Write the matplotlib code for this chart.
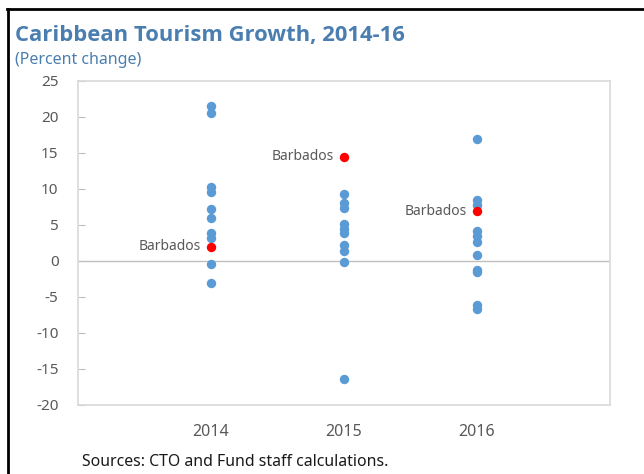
import matplotlib
matplotlib.use("Agg")
import matplotlib.pyplot as plt
from matplotlib.lines import Line2D

plt.rcParams['font.family'] = ['Noto Sans', 'DejaVu Sans']

# Tourism growth by country (percent change), one column per year
years = ["2014", "2015", "2016"]
others_2014 = [21.5, 20.6, 10.3, 9.6, 7.2, 6.0, 3.9, 3.2, -0.4, -3.1]
others_2015 = [9.3, 8.0, 7.3, 5.2, 4.5, 3.9, 2.2, 1.4, -0.1, -16.4]
others_2016 = [16.9, 8.5, 7.8, 4.1, 3.5, 2.7, 0.9, -1.2, -1.5, -6.1, -6.7]
barbados = [2.0, 14.5, 6.9]
y_ticks = [25, 20, 15, 10, 5, 0, -5, -10, -15, -20]

BLUE = "#5B9BD5"
RED = "#FF0000"
TITLE = "#4A7EB0"
GREY_TEXT = "#595959"

fig = plt.figure(figsize=(6.44, 4.74), dpi=100)
ax = fig.add_axes([78 / 644, 1 - 405 / 474, 532 / 644, 324 / 474])

for i, vals in enumerate([others_2014, others_2015, others_2016]):
    ax.scatter([i + 1] * len(vals), vals, s=46, color=BLUE, zorder=3, linewidths=0)
ax.scatter([1, 2, 3], barbados, s=46, color=RED, zorder=4, linewidths=0)

for i, v in enumerate(barbados):
    ax.annotate("Barbados", (i + 1, v), xytext=(-7.5, 0), textcoords="offset points",
                ha="right", va="center", fontsize=10, color=GREY_TEXT)

ax.axhline(0, color="#BFBFBF", lw=1, zorder=1)
ax.set_xlim(0, 4)
ax.set_ylim(-20, 25)
ax.set_yticks(y_ticks)
ax.set_yticklabels([str(t) for t in y_ticks])
ax.set_xticks([1, 2, 3])
ax.set_xticklabels(years)
ax.tick_params(axis="y", direction="in", length=5, color="#BFBFBF", labelsize=11,
               labelcolor=GREY_TEXT, pad=14)
ax.tick_params(axis="x", length=0, labelsize=11.5, labelcolor=GREY_TEXT, pad=14)
for sp in ax.spines.values():
    sp.set_color("#D9D9D9")
    sp.set_linewidth(1.2)

fig.text(15 / 644, 1 - 35 / 474, "Caribbean Tourism Growth, 2014-16", fontsize=15.8,
         fontweight="bold", family=["Open Sans", "DejaVu Sans"], color=TITLE,
         va="center", ha="left")
fig.text(15 / 644, 1 - 60 / 474, "(Percent change)", fontsize=11.5, color=TITLE,
         va="center", ha="left")
fig.text(82 / 644, 1 - 462 / 474, "Sources: CTO and Fund staff calculations.",
         fontsize=11.4, color="#1A1A1A", va="center", ha="left")

# outer frame (left and top edges)
fig.add_artist(Line2D([8 / 644, 8 / 644], [0, 1 - 8.5 / 474], color="black", lw=2,
                      transform=fig.transFigure))
fig.add_artist(Line2D([7 / 644, 1], [1 - 8.5 / 474, 1 - 8.5 / 474], color="black", lw=2,
                      transform=fig.transFigure))

fig.savefig("out.png", dpi=100)
